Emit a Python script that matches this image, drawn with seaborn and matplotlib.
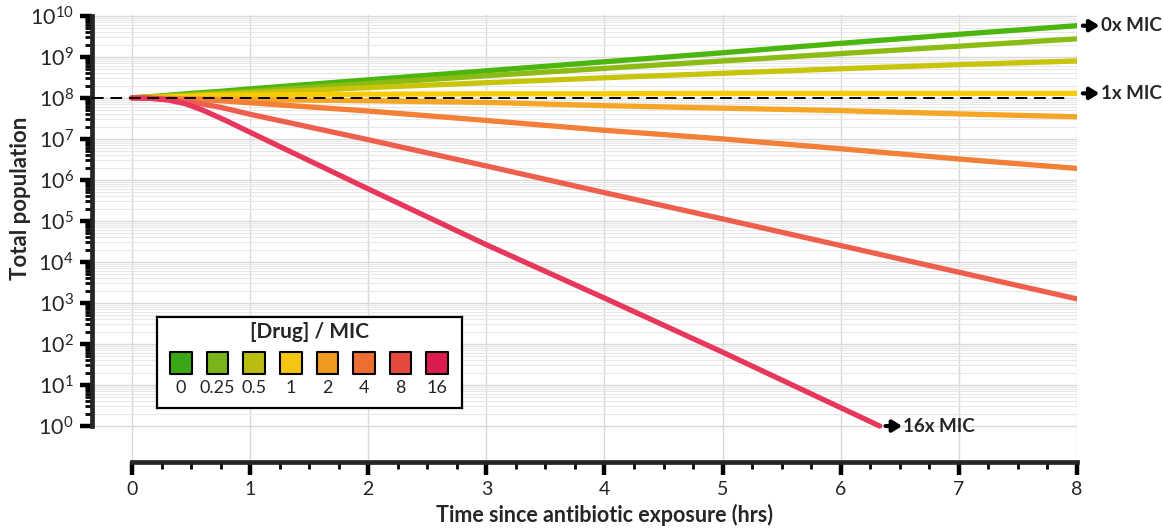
import numpy as np
import pandas as pd
import matplotlib
matplotlib.use("Agg")
import matplotlib.pyplot as plt
import matplotlib.ticker as mticker
import seaborn as sns

# ---------------- data (log10 of total population) ----------------
drug_levels = ["0", "0.25", "0.5", "1", "2", "4", "8", "16"]
times_main = [0, 0.25, 0.5, 0.75, 1, 2, 3, 4, 5, 6, 7, 8]
times_16 = [0, 0.15, 0.3, 0.45, 0.6, 0.8, 1, 2, 3, 4, 5, 6.33]

log_pop_0 = [8.00, 8.05, 8.11, 8.16, 8.22, 8.44, 8.66, 8.88, 9.10, 9.33, 9.55, 9.76]
log_pop_025 = [8.00, 8.04, 8.08, 8.12, 8.16, 8.35, 8.54, 8.72, 8.90, 9.08, 9.26, 9.44]
log_pop_05 = [8.00, 8.03, 8.06, 8.09, 8.12, 8.25, 8.37, 8.49, 8.60, 8.71, 8.81, 8.90]
log_pop_1 = [8.00, 8.02, 8.04, 8.06, 8.07, 8.09, 8.10, 8.10, 8.11, 8.11, 8.11, 8.11]
log_pop_2 = [8.00, 7.99, 7.98, 7.97, 7.96, 7.93, 7.89, 7.81, 7.75, 7.69, 7.61, 7.54]
log_pop_4 = [8.00, 7.99, 7.97, 7.93, 7.88, 7.68, 7.45, 7.21, 7.00, 6.76, 6.51, 6.28]
log_pop_8 = [8.00, 7.98, 7.90, 7.77, 7.60, 6.98, 6.34, 5.69, 5.05, 4.40, 3.75, 3.10]
log_pop_16 = [8.00, 7.99, 7.95, 7.86, 7.70, 7.44, 7.16, 5.78, 4.42, 3.12, 1.80, 0.00]

line_colors = ["#4bb70e", "#8cbb14", "#c8c40a", "#f9cb05", "#f5a625", "#f28036", "#ee604d", "#e8375c"]
legend_colors = ["#3aa816", "#78b41a", "#b9bd12", "#f6c514", "#f09a20", "#ec6e30", "#e64a3e", "#dc1b4e"]

end_labels = ["0x MIC", "1x MIC", "16x MIC"]
initial_pop = 1e8

series = [log_pop_0, log_pop_025, log_pop_05, log_pop_1, log_pop_2, log_pop_4, log_pop_8, log_pop_16]
rows = []
for lvl, vals in zip(drug_levels, series):
    ts = times_16 if lvl == "16" else times_main
    for t, v in zip(ts, vals):
        rows.append({"time": t, "pop": 10 ** v, "drug": lvl})
df = pd.DataFrame(rows)

# ---------------- style ----------------
sns.set_theme(style="white")
plt.rcParams["font.family"] = ["Lato", "DejaVu Sans"]
plt.rcParams["mathtext.fontset"] = "custom"
plt.rcParams["mathtext.rm"] = "Lato"
plt.rcParams["mathtext.it"] = "Lato:italic"
plt.rcParams["mathtext.bf"] = "Lato:bold"

fig = plt.figure(figsize=(11.63, 5.29), dpi=100)
ax = fig.add_axes([0.079, 0.1267, 0.847, 0.8449])

sns.lineplot(data=df, x="time", y="pop", hue="drug", hue_order=drug_levels,
             palette=dict(zip(drug_levels, line_colors)), linewidth=3.8,
             legend=False, ax=ax, sort=False, estimator=None,
             solid_capstyle="round", solid_joinstyle="round", zorder=3)

ax.set_yscale("log")
ax.set_xlim(-0.34, 8.0)
ax.set_ylim(10 ** -0.876, 10 ** 10.02)

# ticks
ax.xaxis.set_major_locator(mticker.FixedLocator(list(range(0, 9))))
ax.xaxis.set_minor_locator(mticker.FixedLocator([k * 0.25 for k in range(0, 33) if k % 4]))
major_y = [10.0 ** k for k in range(0, 11)]
minor_y = [m * 10.0 ** k for k in range(0, 10) for m in range(2, 10)]
ax.yaxis.set_major_locator(mticker.FixedLocator(major_y))
ax.yaxis.set_minor_locator(mticker.FixedLocator(minor_y))
ax.yaxis.set_major_formatter(mticker.LogFormatterSciNotation())
ax.yaxis.set_minor_formatter(mticker.NullFormatter())

ax.tick_params(axis="both", which="major", direction="out", length=9, width=3.2,
               color="black", pad=4)
ax.tick_params(axis="both", which="minor", direction="out", length=5, width=2, color="black")
ax.tick_params(axis="x", which="both", bottom=True)
ax.tick_params(axis="y", which="both", left=True)
ax.tick_params(axis="x", which="major", labelsize=14, pad=5)
ax.tick_params(axis="y", which="major", labelsize=15.5, pad=4)

# grid
ax.grid(True, which="major", axis="both", color="#d9d9d9", linewidth=1.0, zorder=0)
ax.grid(True, which="minor", axis="y", color="#e8e8e8", linewidth=0.8, zorder=0)

# spines
for s in ["top", "right"]:
    ax.spines[s].set_visible(False)
ax.spines["left"].set_linewidth(3.4)
ax.spines["bottom"].set_linewidth(3.4)
ax.spines["left"].set_bounds(1, 1e10)
ax.spines["bottom"].set_bounds(0, 8)

# dashed reference line at initial population
ax.plot([-0.34, 7.95], [initial_pop, initial_pop], color="black", lw=1.4,
        dashes=(6, 3.5), zorder=5)

# labels
ax.set_xlabel("Time since antibiotic exposure (hrs)", fontsize=15.5, fontweight="bold")
ax.set_ylabel("Total population", fontsize=16, fontweight="bold")
ax.xaxis.set_label_coords(0.52, -0.095)
ax.yaxis.set_label_coords(-0.062, 0.59)

# end annotations
end_points = [
    (times_main[-1], 10 ** log_pop_0[-1]),
    (times_main[-1], 10 ** log_pop_1[-1]),
    (times_16[-1], 10 ** log_pop_16[-1]),
]
for (tx, ty), lab in zip(end_points, end_labels):
    ax.annotate("", xy=(tx + 0.19, ty), xytext=(tx + 0.05, ty),
                arrowprops=dict(arrowstyle="-|>,head_length=0.45,head_width=0.28",
                                lw=3, color="black", shrinkA=0, shrinkB=0),
                annotation_clip=False)
    ax.text(tx + 0.2, ty, lab, fontsize=13.5, fontweight="bold", va="center",
            ha="left", clip_on=False)

# custom legend box
lax = fig.add_axes([157 / 1163, 1 - 408 / 529, 305 / 1163, 91 / 529])
lax.set_xlim(-24 / 36.6, (305 - 24) / 36.6)
lax.set_ylim(91, 0)
lax.set_xticks([])
lax.set_yticks([])
lax.set_facecolor("white")
for s in lax.spines.values():
    s.set_linewidth(1.6)
    s.set_color("black")
xs = np.arange(len(drug_levels))
lax.scatter(xs, [46] * len(xs), s=245, marker="s", c=legend_colors,
            edgecolors="black", linewidths=1.5, zorder=3)
lax.text((xs[0] + xs[-1]) / 2, 15, "[Drug] / MIC", ha="center", va="center",
         fontsize=15, fontweight="bold")
for x, lab in zip(xs, drug_levels):
    lax.text(x, 71, lab, ha="center", va="center", fontsize=13)

fig.savefig("out.png", dpi=100)
